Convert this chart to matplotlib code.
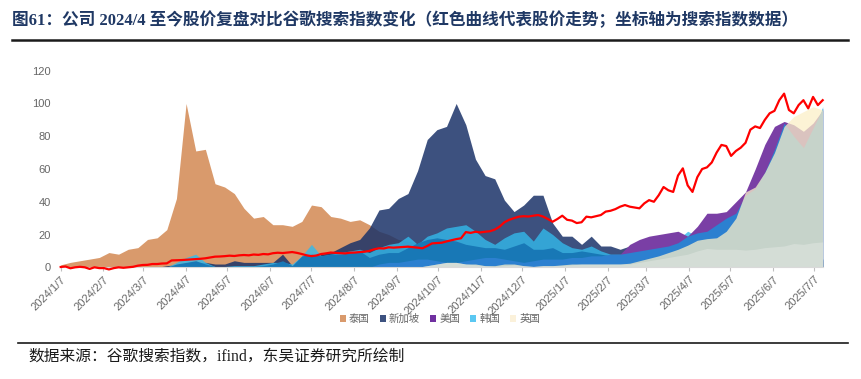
import matplotlib
matplotlib.use('Agg')
import matplotlib.pyplot as plt
from matplotlib.patches import Patch
from matplotlib.lines import Line2D
import pandas as pd

plt.rcParams['font.family'] = ['Liberation Sans', 'Noto Sans CJK SC']

# weekly search index (Google Trends), week starting 2024-01-07
weeks = pd.date_range('2024-01-07', periods=80, freq='7D')

thailand = [1.5, 3, 4, 5, 6, 9, 8, 11, 12, 17, 18, 23, 42, 100, 71, 72, 51, 49, 45, 36,
            30, 31, 26, 26, 25, 28, 38, 37, 31, 30, 28, 29, 26, 22, 20, 17, 16, 15, 12, 10,
            9, 8, 8, 7, 7, 6, 6, 6, 5, 5, 5, 5, 5, 4, 4, 4, 4, 4, 4, 4,
            4, 4, 4, 4, 4, 4, 4, 4, 4, 4, 4, 4, 4, 4, 4, 4, 4, 4, 4, 4]
singapore = [0, 0, 0, 0, 0, 0, 0, 0, 0, 0, 0, 1, 1.5, 2, 3, 3, 2, 2, 4, 3,
             3, 3, 3, 8, 1, 5, 7, 8, 9, 12, 15, 17, 24, 35, 36, 42, 45, 59, 78, 84,
             86, 100, 87, 66, 56, 54, 41, 34, 38, 44, 44, 27, 19, 19, 14, 19, 13, 13, 11, 13,
             9, 8, 7, 6, 6, 5, 5, 5, 5, 5, 5, 5, 5, 5, 5, 5, 5, 5, 5, 5]
usa = [0] * 57 + [3, 8, 14, 17, 19, 20, 21, 22, 19, 25, 33, 33, 34, 40, 46, 60, 75, 86, 89,
                  87, 83, 88, 96]
korea = [0, 0, 0, 0, 0, 0, 0, 0, 0, 0, 0, 0, 3, 6, 8, 3, 0.5, 0.5, 1, 1,
         1, 2, 3, 3, 2, 7, 14, 7, 8, 9, 10, 11, 9, 12, 14, 15, 19, 14, 19, 21,
         24, 25, 26, 22, 17, 14, 18, 21, 22, 16, 24, 20, 15, 12, 11, 13, 10, 8, 8, 8,
         9, 10, 12, 14, 17, 22, 19, 20, 24, 27, 30, 40, 45, 54, 68, 84, 77, 71, 82, 98]
uk = [0] * 38 + [1, 2, 3, 3, 2, 2, 1, 1, 2, 2, 1, 0.5, 1, 1, 1.5, 2, 2, 2, 2, 2,
                 2, 2.5, 4, 5.5, 7, 9, 11, 13.5, 16.5, 17.5, 18, 22, 30, 46, 49, 58, 70, 86,
                 92, 95, 98, 96]
# unlabelled series in the source chart
other_steel = [0, 0, 0, 0, 0, 0, 0, 0, 0, 0, 0, 0, 2, 3, 4, 2, 0.5, 0.5, 0.5, 0.5,
               0.5, 1, 2, 4, 1, 7, 8, 7, 8, 8, 9, 10, 6, 8, 9, 9, 12, 15, 17, 18,
               17, 16, 14, 13, 12, 12, 11, 13, 15, 11, 11, 12, 9, 9, 10, 9, 8, 7, 6, 6,
               5, 5, 5, 5, 5, 5, 5, 5, 5, 5, 5, 5, 5, 5, 5, 5, 5, 5, 5, 5]
other_blue = [0] * 33 + [2, 3, 3, 4, 5, 5, 4, 3, 3, 4, 5, 6, 6, 5, 4, 3, 4, 5, 5, 5,
                         6, 6, 7, 7, 8, 8, 9, 10, 11, 12, 13, 15, 19, 21, 22, 26, 30, 33,
                         44, 48, 58, 72, 88, 80, 73, 85, 97]
other_pale = [0] * 38 + [1, 2, 3, 3, 2, 1.5, 1, 0.5, 1, 1.5, 1, 0.5, 1, 1, 1, 1.5, 2, 2, 2, 2,
                         2, 2, 3, 4, 5, 6, 7, 8, 10, 11.5, 11, 11, 11, 10.5, 11, 12, 12.5, 13,
                         14.5, 14, 15, 15.5]

# share price (scaled to the search-index axis), twice a week
price_dates = pd.date_range('2024-01-07', periods=159, freq='84h')
price = [0.2, 0.5, -0.6, 0, 0.3, 0, -1, 0, -0.5, -0.5,
         -1.3, -0.5, 0, -0.3, 0, 0.3, 1, 1.4, 1.5, 2,
         2, 2.3, 2.4, 4.2, 4.3, 4.4, 4.6, 4.8, 5, 5.2,
         5.5, 6, 6.5, 6.6, 6.8, 7.1, 6.9, 7.3, 7.5, 7.3,
         7.8, 7.6, 8.1, 7.9, 8.6, 8.9, 8.7, 9, 9.3, 8.8,
         8.1, 7.3, 6.8, 7.2, 8.1, 8.5, 9, 8.8, 8.6, 8.5,
         8.9, 9, 9.3, 9.5, 10, 11, 11.6, 11.5, 12.2, 12,
         12.2, 12.4, 12.6, 12.3, 12, 11.6, 13, 14.6, 14.8, 15,
         15.8, 16.5, 17.2, 17.7, 21.5, 21, 21.7, 21.3, 21.7, 22,
         23, 24.8, 27.5, 29, 30, 30.9, 31.2, 31, 31.5, 31.9,
         31, 29.5, 27.8, 29.5, 31.5, 29, 28.5, 27, 27.5, 30.9,
         30.5, 31.2, 31.9, 34, 34.5, 35.5, 37, 38, 37, 36.5,
         36, 39, 41, 40, 44, 49, 47, 46, 56, 60.4,
         50, 46, 55, 60, 61, 64, 70, 74.7, 74, 68,
         71, 73, 76, 84, 86, 85, 90, 94, 95.5, 102,
         106, 96, 94, 99, 102, 97, 104, 99, 102]

tick_dates = pd.date_range('2024-01-01', '2025-07-01', freq='MS') + pd.Timedelta(days=6)
tick_labels = [f'{d.year}/{d.month}/{d.day}' for d in tick_dates]

legend_names = ['泰国', '新加坡', '美国', '韩国', '英国']
legend_colors = ['#D99A6C', '#3D5280', '#7030A0', '#5BC8F2', '#FBF1DA']

fig = plt.figure(figsize=(8.61, 3.79), dpi=100)
ax = fig.add_axes([60.7 / 861, 111.7 / 379, 762 / 861, 196.6 / 379])

ax.fill_between(weeks, thailand, color='#D99A6C', lw=0)
ax.fill_between(weeks, singapore, color='#1B3369', alpha=0.85, lw=0)
ax.fill_between(weeks, korea, color='#32BAEC', alpha=0.8, lw=0)
ax.fill_between(weeks, usa, color='#7A3FA5', lw=0)
ax.fill_between(weeks, other_steel, color='#1878B6', lw=0)
ax.fill_between(weeks, other_blue, color='#2C80D0', lw=0)
ax.fill_between(weeks, uk, color='#FBF0C8', alpha=0.75, lw=0)
ax.fill_between(weeks, other_pale, color='#E6EAE6', alpha=0.45, lw=0)
ax.plot(price_dates, price, color='#FF0000', lw=1.6, clip_on=False, zorder=5)

ax.set_xlim(weeks[0], weeks[-1])
ax.set_ylim(0, 120)
ax.set_yticks(range(0, 121, 20))
ax.set_xticks(tick_dates)
ax.set_xticklabels(tick_labels, rotation=45, ha='right', rotation_mode='anchor')
ax.tick_params(axis='x', colors='#666666', labelsize=8, length=3, color='#BFBFBF', pad=2)
ax.tick_params(axis='y', colors='#666666', labelsize=8, length=0, pad=7)
for s in ['left', 'right', 'top']:
    ax.spines[s].set_visible(False)
ax.spines['bottom'].set_color('#D9D9D9')

handles = [Patch(facecolor=c, edgecolor='none') for c in legend_colors]
fig.legend(handles, legend_names, loc='center', bbox_to_anchor=(440 / 861, 1 - 319 / 379),
           ncol=5, frameon=False, fontsize=7.5, labelcolor='#666666',
           handlelength=0.55, handleheight=0.55, handletextpad=0.3, columnspacing=1.0)

fig.text(12 / 861, 1 - 20 / 379,
         '图61：公司 2024/4 至今股价复盘对比谷歌搜索指数变化（红色曲线代表股价走势；坐标轴为搜索指数数据）',
         fontsize=12, fontweight='bold', color='#1F3864', va='center', ha='left',
         family=['Liberation Serif', 'Noto Sans CJK SC'])
fig.add_artist(Line2D([12 / 861, 848 / 861], [1 - 40 / 379, 1 - 40 / 379],
                      transform=fig.transFigure, color='#1A1A1A', lw=1.8))
fig.add_artist(Line2D([18 / 861, 848 / 861], [1 - 343 / 379, 1 - 343 / 379],
                      transform=fig.transFigure, color='#1A1A1A', lw=1.2))
fig.text(28 / 861, 1 - 357 / 379, '数据来源：谷歌搜索指数，ifind，东吴证券研究所绘制',
         fontsize=11.3, color='#1A1A1A', va='center', ha='left',
         family=['Liberation Serif', 'Noto Sans CJK SC'])

fig.savefig('out.png', dpi=100)
